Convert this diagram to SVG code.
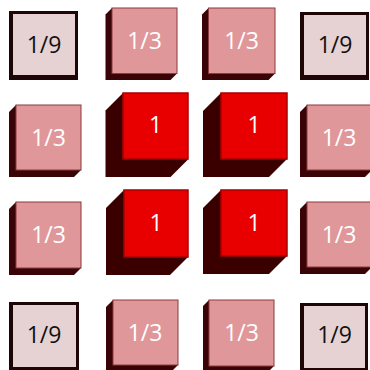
<svg xmlns="http://www.w3.org/2000/svg" width="370" height="370" viewBox="0 0 370 370">
<style>
.bg{fill:#ffffff}
.ninth-edge{fill:#1e0606}
.ninth-face{fill:#e6d1d3}
.third-side{fill:#3a0406}
.third-face{fill:#e0979a;stroke:#8c3a3c;stroke-width:1}
.one-side{fill:#3a0000}
.one-face{fill:#e80000;stroke:#a80000;stroke-width:1.5}
.t{font-family:"Open Sans","Liberation Sans",sans-serif;font-size:23px;text-anchor:middle}
.tw{fill:#ffffff}
.tk{fill:#111111}
</style>
<rect class="bg" x="0" y="0" width="370" height="370"/>

<!-- Row 1 -->
<g id="n-r1c1">
<rect class="ninth-edge" x="9" y="11" width="69" height="69"/>
<rect class="ninth-face" x="13" y="14" width="62" height="61"/>
<text class="t tk" x="44" y="53">1/9</text>
</g>
<g id="n-r1c2">
<polygon class="third-side" points="112,8 105.5,14.5 105.5,80 170.5,80 177,73.5"/>
<rect class="third-face" x="112" y="8" width="65" height="65.5"/>
<text class="t tw" x="144.5" y="49">1/3</text>
</g>
<g id="n-r1c3">
<polygon class="third-side" points="208.5,8 202,14.5 202,80 268.5,80 275,73.5"/>
<rect class="third-face" x="208.5" y="8" width="66.5" height="65.5"/>
<text class="t tw" x="241.5" y="49">1/3</text>
</g>
<g id="n-r1c4">
<rect class="ninth-edge" x="300" y="12" width="69" height="68"/>
<rect class="ninth-face" x="304" y="15" width="62" height="60"/>
<text class="t tk" x="335" y="53">1/9</text>
</g>

<!-- Row 2 -->
<g id="n-r2c1">
<polygon class="third-side" points="16,105 9,112 9,177 74,177 81,170"/>
<rect class="third-face" x="16" y="105" width="65" height="65"/>
<text class="t tw" x="48.5" y="146">1/3</text>
</g>
<g id="n-r2c2">
<polygon class="one-side" points="123,93 105.5,110.5 105.5,177 170.5,177 188,159.5"/>
<rect class="one-face" x="123" y="93" width="65" height="66"/>
<text class="t tw" x="155.5" y="133">1</text>
</g>
<g id="n-r2c3">
<polygon class="one-side" points="221,93 203,111 203,177 269,177 287,159"/>
<rect class="one-face" x="221" y="93" width="66" height="66"/>
<text class="t tw" x="254" y="133">1</text>
</g>
<g id="n-r2c4">
<polygon class="third-side" points="307,105 300,112 300,177 365,177 372,170"/>
<rect class="third-face" x="307" y="105" width="65" height="65"/>
<text class="t tw" x="339" y="146">1/3</text>
</g>

<!-- Row 3 -->
<g id="n-r3c1">
<polygon class="third-side" points="16,202 9,209 9,275 74,275 81,268"/>
<rect class="third-face" x="16" y="202" width="65" height="66"/>
<text class="t tw" x="48.5" y="243">1/3</text>
</g>
<g id="n-r3c2">
<polygon class="one-side" points="124,190 106,208 106,275 170,275 188,257"/>
<rect class="one-face" x="124" y="190" width="64" height="67"/>
<text class="t tw" x="156" y="231">1</text>
</g>
<g id="n-r3c3">
<polygon class="one-side" points="221,190 203,208 203,274 269,274 287,256"/>
<rect class="one-face" x="221" y="190" width="66" height="66"/>
<text class="t tw" x="254" y="231">1</text>
</g>
<g id="n-r3c4">
<polygon class="third-side" points="307,202 300,209 300,274 365,274 372,267"/>
<rect class="third-face" x="307" y="202" width="65" height="65"/>
<text class="t tw" x="339" y="243">1/3</text>
</g>

<!-- Row 4 -->
<g id="n-r4c1">
<rect class="ninth-edge" x="9" y="302" width="70" height="70"/>
<rect class="ninth-face" x="13" y="305" width="63" height="62"/>
<text class="t tk" x="44" y="343">1/9</text>
</g>
<g id="n-r4c2">
<polygon class="third-side" points="113,300 106,307 106,372 171,372 178,365"/>
<rect class="third-face" x="113" y="300" width="65" height="65"/>
<text class="t tw" x="145" y="341">1/3</text>
</g>
<g id="n-r4c3">
<polygon class="third-side" points="209,300 203,306 203,372 268,372 274,366"/>
<rect class="third-face" x="209" y="300" width="65" height="66"/>
<text class="t tw" x="241.5" y="341">1/3</text>
</g>
<g id="n-r4c4">
<rect class="ninth-edge" x="300" y="303" width="68" height="69"/>
<rect class="ninth-face" x="304" y="306" width="61" height="62"/>
<text class="t tk" x="334.5" y="343">1/9</text>
</g>
</svg>
